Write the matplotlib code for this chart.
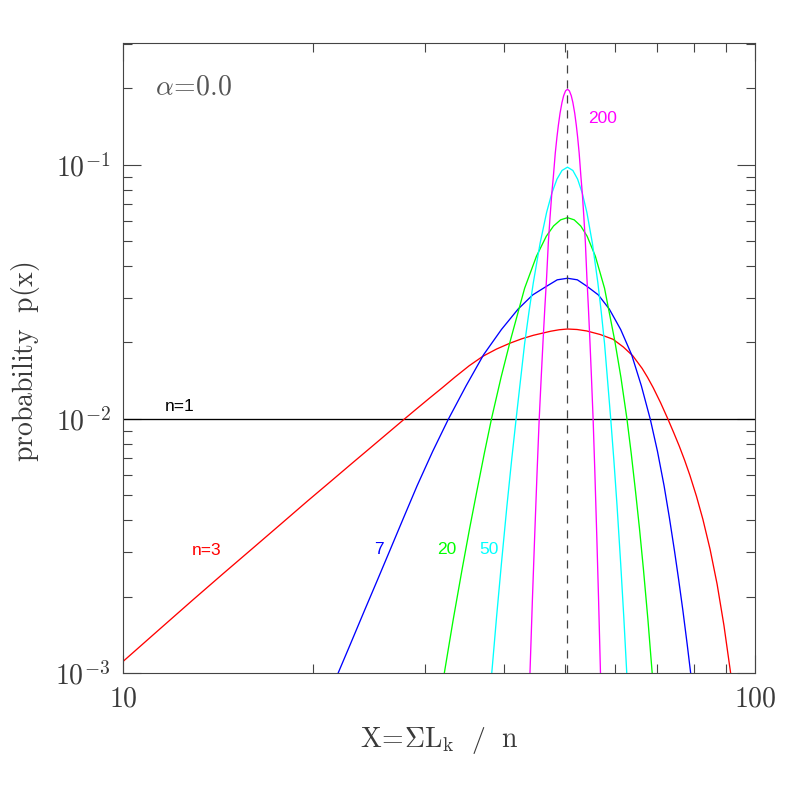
import matplotlib
matplotlib.use("Agg")
import matplotlib.pyplot as plt
from matplotlib.ticker import FixedLocator, NullFormatter, FixedFormatter

# ---------------- data ----------------
x_n1 = [10.0, 100.0]
y_n1 = [0.01, 0.01]

x_n3 = [10.0, 11.4, 12.9, 14.4, 16.0, 17.8, 19.6, 21.3, 23.0, 24.4, 25.8, 27.7, 29.0,
        30.5, 32.0, 33.5, 35.3, 37.1, 39.0, 41.0, 42.8, 44.6, 47.5, 49.0, 50.5, 52.3,
        54.2, 56.9, 59.6, 61.9, 64.1, 66.3, 67.6, 69.0, 70.9, 72.8, 74.4, 75.9, 77.4,
        78.9, 80.8, 82.7, 84.9, 87.1, 89.3, 91.5, 93.0]
y_n3 = [0.00111, 0.00148, 0.00194, 0.00246, 0.00308, 0.00387, 0.00476, 0.00567, 0.00667,
        0.00755, 0.00849, 0.00986, 0.01085, 0.01204, 0.01327, 0.0146, 0.0162, 0.01765,
        0.01885, 0.0199, 0.0207, 0.02135, 0.02215, 0.02245, 0.0226, 0.0225, 0.0222,
        0.0215, 0.0206, 0.0192, 0.0177, 0.0158, 0.01459, 0.01329, 0.01158, 0.0100,
        0.00881, 0.00781, 0.00687, 0.00599, 0.00496, 0.00403, 0.00307, 0.00224, 0.00154,
        0.00100, 0.00066]

x_n7 = [21.9, 22.9, 24.1, 25.3, 26.4, 27.8, 29.2, 30.9, 32.7, 34.9, 37.2, 39.7, 42.2,
        44.5, 46.8, 48.65, 50.5, 52.35, 54.2, 56.5, 58.8, 61.3, 63.8, 66.1, 68.3, 70.1,
        71.8, 73.2, 74.6, 75.7, 76.9, 78.1, 79.1]
y_n7 = [0.00100, 0.00130, 0.00176, 0.00234, 0.00301, 0.00409, 0.00546, 0.00745, 0.00995,
        0.0135, 0.0179, 0.0225, 0.0271, 0.0308, 0.0333, 0.0353, 0.0358, 0.0353, 0.0333,
        0.0308, 0.0271, 0.0225, 0.0179, 0.0135, 0.00995, 0.00745, 0.00546, 0.00409,
        0.00301, 0.00234, 0.00176, 0.00130, 0.00100]

x_n20 = [32.2, 33.3, 34.4, 35.35, 36.3, 37.3, 38.3, 39.65, 41.0, 43.2, 45.1, 46.75, 48.0,
         49.25, 50.5, 51.75, 53.0, 54.25, 55.9, 57.8, 60.0, 61.35, 62.7, 63.7, 64.7,
         65.65, 66.6, 67.7, 68.8]
y_n20 = [0.00098, 0.00162, 0.00256, 0.00370, 0.00520, 0.00732, 0.01005, 0.0146, 0.0203,
         0.0327, 0.0437, 0.0524, 0.0575, 0.0608, 0.0620, 0.0608, 0.0575, 0.0524, 0.0437,
         0.0327, 0.0203, 0.0146, 0.01005, 0.00732, 0.00520, 0.00370, 0.00256, 0.00162,
         0.00098]

x_n50 = [38.3, 39.0, 39.7, 40.5, 41.2, 41.9, 43.2, 43.9, 44.6, 45.7, 46.8, 47.7, 48.6,
         49.5, 50.5, 51.5, 52.4, 53.3, 54.2, 55.3, 56.4, 57.1, 57.8, 59.1, 59.8, 60.5,
         61.3, 62.0, 62.7]
y_n50 = [0.00098, 0.00166, 0.00270, 0.00454, 0.00688, 0.0101, 0.0198, 0.0265, 0.0345,
         0.0491, 0.0650, 0.0774, 0.0879, 0.0951, 0.0980, 0.0951, 0.0879, 0.0774, 0.0650,
         0.0491, 0.0345, 0.0265, 0.0198, 0.0101, 0.00688, 0.00454, 0.00270, 0.00166,
         0.00098]

x_n200 = [44.05, 44.45, 44.8, 45.2, 45.55, 45.9, 46.2, 46.5, 46.8, 47.1, 47.4, 47.7,
          47.95, 48.3, 48.6, 48.85, 49.15, 49.5, 49.8, 50.15, 50.5, 50.85, 51.2, 51.5,
          51.85, 52.15, 52.4, 52.7, 53.05, 53.3, 53.6, 53.9, 54.2, 54.5, 54.8, 55.1,
          55.45, 55.8, 56.2, 56.55, 56.95]
y_n200 = [0.00100, 0.00197, 0.00340, 0.00614, 0.00991, 0.01473, 0.0203, 0.0274, 0.0360,
          0.0496, 0.0627, 0.0775, 0.0890, 0.1111, 0.1288, 0.1432, 0.1598, 0.1762, 0.1873,
          0.1957, 0.1986, 0.1957, 0.1873, 0.1762, 0.1598, 0.1432, 0.1288, 0.1111, 0.0890,
          0.0775, 0.0627, 0.0496, 0.0360, 0.0274, 0.0203, 0.01473, 0.00991, 0.00614,
          0.00340, 0.00197, 0.00100]

x_mean = 50.5

curve_labels = ["n=1", "n=3", "7", "20", "50", "200"]
x_tick_vals = [10, 100]
x_tick_labels = [r"$10$", r"$100$"]
y_tick_vals = [1e-3, 1e-2, 1e-1]
y_tick_labels = [r"$10^{-3}$", r"$10^{-2}$", r"$10^{-1}$"]
x_minor = [20, 30, 40, 50, 60, 70, 80, 90]
y_minor = [2e-3, 3e-3, 4e-3, 5e-3, 6e-3, 7e-3, 8e-3, 9e-3,
           2e-2, 3e-2, 4e-2, 5e-2, 6e-2, 7e-2, 8e-2, 9e-2, 2e-1, 3e-1]

# ---------------- style ----------------
plt.rcParams["mathtext.fontset"] = "cm"
plt.rcParams["font.family"] = ["Liberation Sans", "DejaVu Sans"]
TXT = "#3a3a3a"

fig = plt.figure(figsize=(7.97, 7.97), dpi=100)
W = H = 797.0
ax = fig.add_axes([123 / W, (H - 673) / H, 632 / W, 630 / H])
ax.set_xscale("log")
ax.set_yscale("log")
ax.set_xlim(10, 100)
ax.set_ylim(1e-3, 0.302)

lw = 0.95
ax.plot(x_n1, y_n1, color="black", lw=lw)
ax.plot(x_n3, y_n3, color="#ff0000", lw=lw)
ax.plot(x_n7, y_n7, color="#0000ff", lw=lw)
ax.plot(x_n20, y_n20, color="#00ff00", lw=lw)
ax.plot(x_n50, y_n50, color="#00ffff", lw=lw)
ax.plot(x_n200, y_n200, color="#ff00ff", lw=lw)
ax.axvline(x_mean, color="#444444", lw=0.9, dashes=(6.5, 5.5))

# ticks
ax.xaxis.set_major_locator(FixedLocator(x_tick_vals))
ax.xaxis.set_major_formatter(FixedFormatter(x_tick_labels))
ax.xaxis.set_minor_locator(FixedLocator(x_minor))
ax.xaxis.set_minor_formatter(NullFormatter())
ax.yaxis.set_major_locator(FixedLocator(y_tick_vals))
ax.yaxis.set_major_formatter(FixedFormatter(y_tick_labels))
ax.yaxis.set_minor_locator(FixedLocator(y_minor))
ax.yaxis.set_minor_formatter(NullFormatter())
ax.tick_params(which="both", direction="in", top=True, right=True,
               color="#444444", width=0.8, labelcolor=TXT, labelsize=20)
ax.tick_params(which="major", length=13)
ax.tick_params(which="minor", length=6.5)
ax.tick_params(axis="x", which="major", pad=10)
ax.tick_params(axis="y", which="major", pad=9)
for s in ax.spines.values():
    s.set_color("#444444")
    s.set_linewidth(0.8)

# curve labels
fs = 12.5
ax.text(0.0894, 0.423, curve_labels[0], transform=ax.transAxes, color="black",
        fontsize=fs, ha="center", va="center")
ax.text(0.1321, 0.1952, curve_labels[1], transform=ax.transAxes, color="#ff0000",
        fontsize=fs, ha="center", va="center")
ax.text(0.4051, 0.1968, curve_labels[2], transform=ax.transAxes, color="#0000ff",
        fontsize=fs, ha="center", va="center")
ax.text(0.5127, 0.1968, curve_labels[3], transform=ax.transAxes, color="#00ff00",
        fontsize=fs, ha="center", va="center")
ax.text(0.5783, 0.1968, curve_labels[4], transform=ax.transAxes, color="#00ffff",
        fontsize=fs, ha="center", va="center")
ax.text(0.7587, 0.8794, curve_labels[5], transform=ax.transAxes, color="#ff00ff",
        fontsize=fs, ha="center", va="center")

ax.text(0.0506, 0.930, r"$\alpha\!=\!0.0$", transform=ax.transAxes, color="#555555",
        fontsize=20, ha="left", va="center")

# axis labels
fig.text(439 / W, 1 - 747 / H,
         r"$\mathrm{X\!=\!}\Sigma\mathrm{L_k}\ \ /\ \ \mathrm{n}$",
         color=TXT, fontsize=20, ha="center", va="baseline")
fig.text(26 / W, 1 - 362 / H, r"$\mathrm{probability\ \ p(x)}$",
         color=TXT, fontsize=20, ha="center", va="center", rotation=90)

fig.savefig("out.png", dpi=100)
